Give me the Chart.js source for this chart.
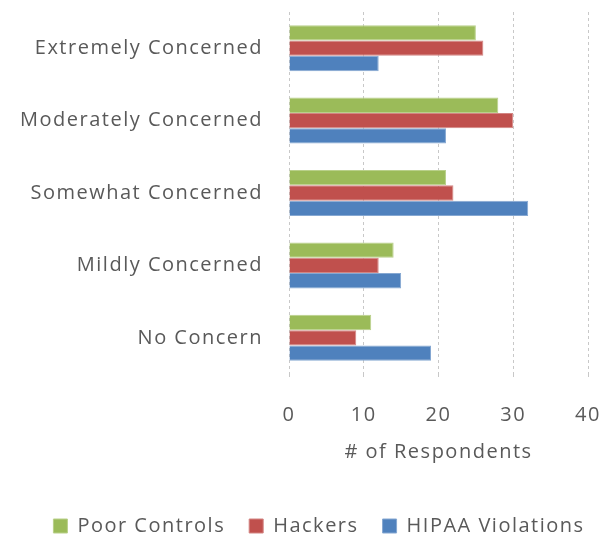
<!DOCTYPE html>
<html>
<head>
<meta charset="utf-8">
<script src="https://cdn.jsdelivr.net/npm/chart.js@4"></script>
<style>
html,body{margin:0;padding:0;background:#fff;}
#wrap{width:604px;height:539px;}
</style>
</head>
<body>
<div id="wrap"><canvas id="c" width="604" height="539"></canvas></div>
<script>
const categories = ["Extremely Concerned", "Moderately Concerned", "Somewhat Concerned", "Mildly Concerned", "No Concern"];
const poorControls = [25, 28, 21, 14, 11];
const hackers = [26, 30, 22, 12, 9];
const hipaaViolations = [12, 21, 32, 15, 19];
const xTicks = [0, 10, 20, 30, 40];
const axisTitle = "# of Respondents";

const FONT = "'Open Sans', sans-serif";
const TXT = "#595959";
const LS = '1.5px';
const LEGEND_SHIFT = 25;

const spacingPlugin = {
  id: 'spacing',
  beforeUpdate(chart) { chart.ctx.letterSpacing = LS; },
  beforeLayout(chart) { chart.ctx.letterSpacing = LS; },
  afterLayout(chart) {
    const lg = chart.legend;
    if (lg) { lg.left += LEGEND_SHIFT; lg.right += LEGEND_SHIFT; }
  },
  beforeDraw(chart) { chart.ctx.letterSpacing = LS; }
};

new Chart(document.getElementById('c'), {
  type: 'bar',
  data: {
    labels: categories,
    datasets: [
      {label: 'Poor Controls', data: poorControls, backgroundColor: '#9BBB59', borderColor: '#b9d08a', borderWidth: 1},
      {label: 'Hackers', data: hackers, backgroundColor: '#C0504D', borderColor: '#d38583', borderWidth: 1},
      {label: 'HIPAA Violations', data: hipaaViolations, backgroundColor: '#4F81BD', borderColor: '#86a8d2', borderWidth: 1}
    ]
  },
  plugins: [spacingPlugin],
  options: {
    indexAxis: 'y',
    responsive: false,
    animation: false,
    layout: {padding: {top: 12, right: 16, bottom: -7, left: 0}},
    datasets: {bar: {categoryPercentage: 0.635, barPercentage: 1.0}},
    scales: {
      y: {
        grid: {display: false},
        border: {display: false},
        ticks: {color: TXT, font: {family: FONT, size: 20}, padding: 18},
        afterFit: s => { s.width = 289; s.paddingTop = 0; s.paddingBottom = 0; }
      },
      x: {
        min: 0, max: 40,
        afterBuildTicks: s => { s.ticks = xTicks.map(v => ({value: v})); },
        grid: {color: '#c8c8c8', lineWidth: 1, tickLength: 3, drawTicks: true},
        border: {display: false, dash: [3, 3]},
        ticks: {color: TXT, font: {family: FONT, size: 20}, padding: 26},
        title: {display: true, text: axisTitle, color: TXT, font: {family: FONT, size: 20}, padding: {top: 0, bottom: 28}},
        afterFit: s => { s.height = 118; s.paddingLeft = 0; s.paddingRight = 0; }
      }
    },
    plugins: {
      legend: {
        position: 'bottom',
        labels: {color: TXT, font: {family: FONT, size: 20}, boxWidth: 14, boxHeight: 14, padding: 24}
      },
      tooltip: {enabled: false}
    }
  }
});
</script>
</body>
</html>
